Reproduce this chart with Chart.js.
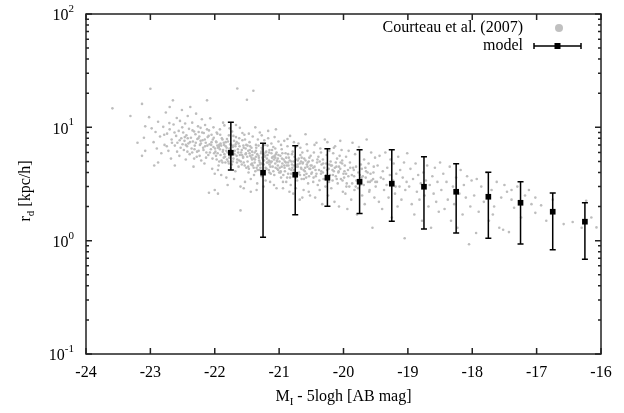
<!DOCTYPE html>
<html>
<head>
<meta charset="utf-8">
<script src="https://cdn.jsdelivr.net/npm/chart.js@4.4.1/dist/chart.umd.min.js"></script>
<style>
    html, body { margin: 0; padding: 0; background: #fff; }
    #wrap { width: 624px; height: 413px; }
</style>
</head>
<body>
<div id="wrap"><canvas id="rdChart" width="624" height="413"></canvas></div>
<script>
// Axis ticks
const xTicks = [-24, -23, -22, -21, -20, -19, -18, -17, -16];
const yDecades = [0.1, 1, 10, 100];
const yExponents = ['-1', '0', '1', '2'];

// Model: bin centres, median r_d and error bar ends (kpc/h)
const modelMag = [-21.75, -21.25, -20.75, -20.25, -19.75, -19.25, -18.75, -18.25, -17.75, -17.25, -16.75, -16.25];
const modelRd  = [5.97, 3.98, 3.82, 3.59, 3.31, 3.18, 2.99, 2.70, 2.44, 2.16, 1.80, 1.47];
const modelHi  = [11.1, 7.22, 6.89, 6.47, 6.34, 6.34, 5.51, 4.78, 4.01, 3.31, 2.63, 2.16];
const modelLo  = [4.2, 1.07, 1.69, 2.01, 1.74, 1.48, 1.27, 1.17, 1.05, 0.933, 0.832, 0.684];

// Courteau et al. (2007) galaxies, [M_I - 5logh, r_d]
const courteauPoints = [
    [-23.59,14.7],[-23.31,12.6],[-23.0,21.9],[-23.13,16.1],[-23.13,5.6],[-23.08,10.2],[-22.94,4.6],[-23.08,6.2],[-22.98,9.8],[-23.2,7.3],[-23.1,8.1],[-23.02,12.3],
    [-22.95,7.4],[-22.92,9.1],[-22.9,6.5],[-22.88,11.2],[-22.85,8.3],[-22.83,5.9],[-22.8,10.1],[-22.78,7.0],[-22.76,13.5],[-22.74,8.8],[-22.72,6.2],[-22.7,9.6],
    [-22.68,5.3],[-22.67,7.8],[-22.65,17.3],[-22.64,10.6],[-22.62,6.9],[-22.6,8.4],[-22.59,12.1],[-22.58,7.3],[-22.56,9.3],[-22.55,5.6],[-22.54,11.4],[-22.53,6.6],
    [-22.52,8.0],[-22.51,14.2],[-22.5,7.1],[-22.88,4.9],[-22.7,15.1],[-22.62,4.6],
    [-22.785,8.6],[-22.745,6.8],[-22.705,10.9],[-22.665,7.3],[-22.625,9.0],[-22.585,6.1],[-22.545,7.7],[-22.505,10.0],[-22.465,8.2],[-22.425,6.1],[-22.385,7.4],
    [-22.345,9.4],[-22.315,6.4],
    [-22.49,9.0],[-22.48,6.3],[-22.47,7.6],[-22.46,10.8],[-22.45,5.2],[-22.44,8.5],[-22.43,6.8],[-22.42,12.6],[-22.41,7.2],[-22.4,9.7],[-22.39,5.8],[-22.38,15.1],
    [-22.37,8.1],[-22.36,6.5],[-22.35,11.0],[-22.34,7.5],[-22.33,4.5],[-22.32,9.2],[-22.31,6.9],[-22.3,8.7],[-22.29,13.2],[-22.28,5.5],[-22.27,7.9],[-22.26,10.2],
    [-22.25,6.2],[-22.24,8.3],[-22.23,7.0],[-22.22,9.9],[-22.21,5.1],[-22.2,11.8],[-22.19,7.7],[-22.18,6.6],[-22.17,8.9],[-22.16,4.8],[-22.15,10.5],[-22.14,7.3],
    [-22.13,6.0],[-22.12,17.3],[-22.11,8.2],[-22.1,5.7],[-22.09,9.4],[-22.08,7.1],[-22.07,12.0],[-22.06,6.4],[-22.05,8.6],[-22.04,4.3],[-22.03,7.8],[-22.02,10.0],
    [-22.01,5.9],[-22.0,3.9],[-22.45,7.0],[-22.35,6.0],[-22.25,9.1],[-22.15,6.8],[-22.05,7.4],[-22.42,8.0],[-22.32,5.3],[-22.22,7.6],[-22.12,9.6],[-22.02,6.7],
    [-22.09,2.65],[-22.0,2.8],[-21.95,2.6],
    [-22.295,7.3],[-22.275,6.1],[-22.255,8.0],[-22.235,5.6],[-22.215,7.2],[-22.195,9.0],[-22.175,6.3],[-22.155,7.8],[-22.135,5.4],[-22.115,6.9],[-22.095,8.4],
    [-22.075,6.0],[-22.055,7.0],[-22.035,5.3],[-22.015,8.1],
    [-21.99,6.1],[-21.98,7.5],[-21.97,5.2],[-21.96,8.8],[-21.95,6.6],[-21.94,4.6],[-21.93,7.0],[-21.92,9.6],[-21.91,5.7],[-21.9,6.9],[-21.89,8.0],[-21.88,4.9],
    [-21.87,6.3],[-21.86,7.3],[-21.85,10.4],[-21.84,5.5],[-21.83,6.8],[-21.82,3.6],[-21.81,7.9],[-21.8,6.0],[-21.79,5.0],[-21.78,8.5],[-21.77,6.5],[-21.76,7.1],
    [-21.75,4.4],[-21.74,5.9],[-21.73,9.2],[-21.72,6.7],[-21.71,5.3],[-21.7,7.6],[-21.69,6.2],[-21.68,4.1],[-21.67,8.2],[-21.66,5.6],[-21.65,22.0],[-21.64,6.4],
    [-21.63,7.2],[-21.62,5.1],[-21.61,9.9],[-21.6,1.85],[-21.59,6.0],[-21.58,4.7],[-21.57,7.7],[-21.56,5.4],[-21.55,6.6],[-21.54,8.6],[-21.53,3.3],[-21.52,5.8],
    [-21.51,7.0],[-21.5,17.5],[-21.98,5.6],[-21.95,4.2],[-21.92,6.4],[-21.88,7.8],[-21.85,5.8],[-21.82,6.2],[-21.78,4.8],[-21.75,7.0],[-21.72,5.0],[-21.68,6.8],
    [-21.65,5.2],[-21.62,8.0],[-21.58,6.3],[-21.55,4.9],[-21.52,6.5],[-21.9,3.8],[-21.8,3.1],[-21.7,3.5],[-21.6,3.0],[-21.55,2.9],[-21.97,9.0],[-21.87,11.0],
    [-21.77,9.8],[-21.67,10.5],[-21.57,8.9],[-21.96,6.9],[-21.86,5.4],[-21.76,5.6],[-21.66,7.4],[-21.56,5.5],[-21.93,5.0],[-21.83,7.4],[-21.73,6.1],[-21.63,4.5],
    [-21.53,7.8],[-21.71,8.4],[-21.61,5.7],[-21.81,5.2],[-21.91,7.2],[-21.51,4.4],
    [-21.995,6.5],[-21.975,7.4],[-21.955,5.9],[-21.935,6.7],[-21.915,8.6],[-21.895,5.1],[-21.875,6.1],[-21.855,7.0],[-21.835,4.9],[-21.815,6.6],[-21.795,7.5],
    [-21.775,5.4],[-21.755,6.3],[-21.735,4.7],[-21.715,6.9],[-21.695,5.8],[-21.675,7.1],[-21.655,4.9],[-21.635,6.0],[-21.615,6.8],[-21.595,5.0],[-21.575,5.7],
    [-21.555,6.9],[-21.535,4.6],[-21.515,5.9],
    [-21.49,5.0],[-21.48,6.2],[-21.47,4.3],[-21.46,7.4],[-21.45,5.6],[-21.44,2.7],[-21.43,6.6],[-21.42,4.8],[-21.41,8.3],[-21.4,21.0],[-21.39,5.3],[-21.38,6.0],
    [-21.37,4.1],[-21.36,7.0],[-21.35,2.8],[-21.34,5.8],[-21.33,4.6],[-21.32,6.9],[-21.31,5.1],[-21.3,9.0],[-21.29,4.4],[-21.28,5.9],[-21.27,3.7],[-21.26,6.4],
    [-21.25,5.2],[-21.24,4.7],[-21.23,7.7],[-21.22,5.5],[-21.21,3.4],[-21.2,6.1],[-21.19,4.9],[-21.18,5.7],[-21.17,8.0],[-21.16,4.2],[-21.15,6.3],[-21.14,5.0],
    [-21.13,3.9],[-21.12,7.2],[-21.11,5.4],[-21.1,4.5],[-21.09,6.7],[-21.08,3.1],[-21.07,5.6],[-21.06,4.8],[-21.05,9.6],[-21.04,6.0],[-21.03,4.3],[-21.02,5.3],
    [-21.01,7.5],[-21.0,4.0],[-21.48,4.5],[-21.45,6.8],[-21.42,5.2],[-21.39,3.8],[-21.36,5.5],[-21.33,7.8],[-21.3,4.9],[-21.27,6.6],[-21.24,5.8],[-21.21,4.4],
    [-21.18,6.9],[-21.15,4.7],[-21.12,5.9],[-21.09,4.1],[-21.06,6.5],[-21.03,5.0],[-21.47,8.8],[-21.37,10.0],[-21.27,8.5],[-21.17,9.3],[-21.07,8.2],[-21.44,3.5],
    [-21.34,3.2],[-21.24,3.0],[-21.14,3.3],[-21.04,2.9],[-21.46,5.9],[-21.41,4.6],[-21.36,6.2],[-21.31,4.2],[-21.26,5.4],[-21.21,6.0],[-21.16,5.1],[-21.11,6.3],
    [-21.06,5.4],[-21.01,5.7],[-21.49,6.9],[-21.43,5.4],[-21.38,4.9],[-21.28,4.8],[-21.19,5.3],[-21.13,4.9],[-21.08,5.2],[-21.02,4.6],[-21.32,5.6],[-21.22,7.0],
    [-21.42,6.1],[-21.35,4.4],[-21.25,6.9],[-21.15,4.0],[-21.05,5.8],
    [-21.495,5.5],[-21.475,4.0],[-21.455,6.3],[-21.435,4.7],[-21.415,5.7],[-21.395,4.4],[-21.375,5.2],[-21.355,6.6],[-21.335,4.2],[-21.315,5.4],[-21.295,4.7],
    [-21.275,6.1],[-21.255,3.9],[-21.235,5.1],[-21.215,5.6],[-21.195,4.3],[-21.175,4.9],[-21.155,6.0],[-21.135,4.5],[-21.115,5.0],[-21.095,5.5],[-21.075,3.8],
    [-21.055,4.4],[-21.035,5.1],[-21.015,4.2],
    [-20.99,4.4],[-20.98,5.6],[-20.97,3.6],[-20.96,6.4],[-20.95,4.8],[-20.94,2.9],[-20.93,5.2],[-20.92,7.6],[-20.91,4.1],[-20.9,5.9],[-20.89,3.3],[-20.88,4.6],
    [-20.87,6.8],[-20.86,3.9],[-20.85,5.4],[-20.84,4.3],[-20.83,8.4],[-20.82,3.1],[-20.81,5.0],[-20.8,4.7],[-20.79,6.1],[-20.78,2.6],[-20.77,4.2],[-20.76,5.5],
    [-20.75,3.7],[-20.74,6.7],[-20.73,4.5],[-20.72,3.4],[-20.71,5.1],[-20.7,7.2],[-20.69,4.0],[-20.68,2.3],[-20.67,5.7],[-20.66,4.4],[-20.65,3.5],[-20.64,6.0],
    [-20.63,4.9],[-20.62,2.8],[-20.61,5.3],[-20.6,4.1],[-20.59,8.7],[-20.58,3.6],[-20.57,4.7],[-20.56,6.2],[-20.55,3.2],[-20.54,5.0],[-20.53,4.3],[-20.52,2.5],
    [-20.51,5.6],[-20.5,3.9],[-20.98,4.0],[-20.95,5.9],[-20.92,4.6],[-20.89,5.4],[-20.86,4.9],[-20.83,3.6],[-20.8,5.8],[-20.77,4.6],[-20.74,5.2],[-20.71,3.9],
    [-20.68,4.8],[-20.65,5.4],[-20.62,4.2],[-20.59,5.1],[-20.56,4.5],[-20.53,5.4],[-20.97,7.0],[-20.87,7.9],[-20.77,7.4],[-20.67,6.6],[-20.57,7.1],[-20.94,3.3],
    [-20.84,2.7],[-20.74,2.9],[-20.64,2.4],[-20.54,2.7],[-20.91,5.0],[-20.81,4.2],[-20.71,4.5],[-20.61,3.8],[-20.51,4.6],[-20.96,4.5],[-20.86,5.8],[-20.76,4.0],
    [-20.66,5.0],
    [-20.995,5.0],[-20.975,4.1],[-20.955,5.3],[-20.935,3.8],[-20.915,4.4],[-20.895,4.9],[-20.875,3.6],[-20.855,4.6],[-20.835,5.1],[-20.815,3.9],[-20.795,4.4],
    [-20.775,5.0],[-20.755,4.2],[-20.735,3.6],[-20.715,4.7],[-20.695,5.3],[-20.675,3.8],[-20.655,4.3],[-20.635,4.8],[-20.615,3.5],[-20.595,4.4],[-20.575,3.9],
    [-20.555,4.9],[-20.535,3.7],[-20.515,4.3],
    [-20.49,4.0],[-20.48,5.1],[-20.47,3.3],[-20.46,6.0],[-20.45,4.5],[-20.44,2.4],[-20.43,3.7],[-20.42,7.3],[-20.41,4.9],[-20.4,3.1],[-20.39,5.5],[-20.38,4.2],
    [-20.37,2.8],[-20.36,6.5],[-20.35,3.9],[-20.34,4.7],[-20.33,2.1],[-20.32,5.2],[-20.31,3.5],[-20.3,4.4],[-20.29,7.8],[-20.28,3.0],[-20.27,4.8],[-20.26,5.7],
    [-20.25,3.6],[-20.24,2.5],[-20.23,4.3],[-20.22,6.2],[-20.21,3.8],[-20.2,5.0],[-20.19,2.9],[-20.18,4.6],[-20.17,3.4],[-20.16,5.9],[-20.15,4.1],[-20.14,2.2],
    [-20.13,6.8],[-20.12,3.7],[-20.11,4.5],[-20.1,5.3],[-20.09,3.2],[-20.08,4.0],[-20.07,2.0],[-20.06,5.6],[-20.05,4.3],[-20.04,3.5],[-20.03,6.3],[-20.02,4.8],
    [-20.01,2.7],[-20.0,3.9],[-20.47,4.4],[-20.42,3.9],[-20.37,5.0],[-20.32,4.0],[-20.27,3.8],[-20.22,4.7],[-20.17,4.2],[-20.12,4.9],[-20.07,4.5],[-20.02,5.1],
    [-20.45,7.0],[-20.35,6.0],[-20.25,7.4],[-20.15,6.6],[-20.05,7.6],
    [-20.495,4.6],[-20.465,3.6],[-20.435,4.2],[-20.405,5.2],[-20.375,3.4],[-20.345,4.1],[-20.315,4.8],[-20.285,3.5],[-20.255,4.2],[-20.225,3.3],[-20.195,4.6],
    [-20.165,3.8],[-20.135,4.4],[-20.105,3.5],[-20.075,4.1],[-20.045,4.9],[-20.015,3.4],
    [-19.99,3.6],[-19.98,4.6],[-19.97,2.6],[-19.96,5.5],[-19.95,3.2],[-19.94,1.9],[-19.93,4.2],[-19.92,6.2],[-19.91,3.0],[-19.9,4.9],[-19.88,2.3],[-19.87,3.8],
    [-19.86,7.3],[-19.85,4.4],[-19.83,2.8],[-19.82,5.8],[-19.8,3.4],[-19.79,1.7],[-19.77,4.0],[-19.76,6.7],[-19.74,3.1],[-19.73,4.7],[-19.71,2.5],[-19.7,3.7],
    [-19.68,5.2],[-19.67,2.1],[-19.65,4.1],[-19.64,7.8],[-19.62,3.3],[-19.61,4.8],[-19.6,2.7],[-19.58,3.9],[-19.57,6.0],[-19.55,1.3],[-19.54,3.5],[-19.53,4.5],
    [-19.52,2.4],[-19.51,5.4],[-19.5,3.0],[-19.96,3.9],[-19.84,4.2],[-19.72,3.6],[-19.66,4.4],[-19.59,3.3],[-19.81,3.0],
    [-19.985,4.1],[-19.955,3.0],[-19.925,3.7],[-19.895,4.4],[-19.865,3.2],[-19.835,3.7],[-19.805,4.5],[-19.775,2.9],[-19.745,3.8],[-19.715,4.3],[-19.685,3.1],
    [-19.655,3.6],[-19.625,4.0],[-19.595,2.8],[-19.565,3.4],[-19.535,4.0],[-19.505,3.3],
    [-19.48,3.3],[-19.47,4.6],[-19.45,2.2],[-19.44,5.6],[-19.42,3.6],[-19.4,1.9],[-19.39,4.1],[-19.37,2.8],[-19.35,6.0],[-19.33,3.1],[-19.32,4.4],[-19.3,2.4],
    [-19.28,3.8],[-19.27,5.2],[-19.25,1.6],[-19.23,3.4],[-19.22,4.8],[-19.2,2.6],[-19.18,3.9],[-19.16,2.0],[-19.15,5.5],[-19.13,3.0],[-19.12,4.2],[-19.1,2.3],
    [-19.08,3.6],[-19.06,4.9],[-19.05,1.05],[-19.04,2.8],[-19.02,3.3],[-19.01,5.9],[-19.38,3.5],[-19.19,3.0],
    [-18.98,3.0],[-18.96,4.3],[-18.94,2.1],[-18.92,3.5],[-18.9,1.7],[-18.88,4.8],[-18.86,2.7],[-18.84,3.8],[-18.82,2.3],[-18.8,3.2],[-18.78,1.5],[-18.76,4.0],
    [-18.74,2.5],[-18.72,3.4],[-18.7,4.6],[-18.68,2.0],[-18.66,3.1],[-18.64,1.3],[-18.62,3.7],[-18.6,2.6],[-18.58,4.4],[-18.56,2.2],[-18.54,3.3],[-18.52,1.8],
    [-18.5,4.9],
    [-18.48,2.8],[-18.45,3.9],[-18.43,1.9],[-18.4,3.3],[-18.38,2.3],[-18.35,4.5],[-18.33,1.5],[-18.3,3.0],[-18.28,2.1],[-18.25,3.6],[-18.23,1.3],[-18.2,2.6],
    [-18.18,4.2],[-18.15,1.7],[-18.13,3.1],[-18.1,2.4],[-18.08,3.7],[-18.05,0.93],[-18.03,2.0],[-18.01,3.4],
    [-17.97,2.5],[-17.93,3.5],[-17.9,1.8],[-17.86,3.0],[-17.82,2.2],[-17.78,4.0],[-17.74,1.5],[-17.7,2.8],[-17.66,2.0],[-17.62,3.3],[-17.58,1.3],[-17.55,2.4],
    [-17.52,1.25],[-17.5,3.1],[-17.68,1.7],[-17.94,1.17],
    [-17.46,2.7],[-17.43,1.19],[-17.39,2.8],[-17.39,2.3],[-17.35,1.95],[-17.3,3.0],[-17.24,1.6],[-17.18,2.5],[-17.12,2.8],[-17.08,2.1],[-17.02,1.76],[-17.02,2.4],
    [-16.93,2.05],[-16.85,1.5],[-16.75,2.3],[-16.58,1.40],[-16.44,1.46],[-16.3,1.3],[-16.23,2.25],[-16.07,1.31],[-16.15,1.6]
];

const SERIF = '"Liberation Serif", "DejaVu Serif", serif';
const AXIS_COLOR = '#222';

// draw a run of [text, size, dy] pieces starting at x (left aligned)
function drawPieces(ctx, pieces, x, y) {
    pieces.forEach(p => {
        ctx.font = p[1] + 'px ' + SERIF;
        ctx.fillText(p[0], x, y + p[2]);
        x += ctx.measureText(p[0]).width;
    });
}

function piecesWidth(ctx, pieces) {
    let w = 0;
    pieces.forEach(p => {
        ctx.font = p[1] + 'px ' + SERIF;
        w += ctx.measureText(p[0]).width;
    });
    return w;
}

const errorBarPlugin = {
    id: 'errorBars',
    beforeDatasetDraw(chart, args) {
        if (args.index !== 0) return;
        const { ctx, scales: { x, y } } = chart;
        ctx.save();
        ctx.strokeStyle = '#000';
        ctx.lineWidth = 1.5;
        modelMag.forEach((m, i) => {
            const px = x.getPixelForValue(m);
            const top = y.getPixelForValue(modelHi[i]);
            const bot = y.getPixelForValue(modelLo[i]);
            ctx.beginPath();
            ctx.moveTo(px, top); ctx.lineTo(px, bot);
            ctx.moveTo(px - 3, top); ctx.lineTo(px + 3, top);
            ctx.moveTo(px - 3, bot); ctx.lineTo(px + 3, bot);
            ctx.stroke();
        });
        ctx.restore();
    }
};

const framePlugin = {
    id: 'gnuFrame',
    afterDraw(chart) {
        const { ctx, chartArea: a, scales: { x, y } } = chart;
        ctx.save();
        ctx.strokeStyle = AXIS_COLOR;
        ctx.lineWidth = 1.5;
        ctx.strokeRect(a.left, a.top, a.right - a.left, a.bottom - a.top);

        // x ticks (bottom and top, pointing inwards)
        ctx.beginPath();
        xTicks.forEach(v => {
            const px = x.getPixelForValue(v);
            ctx.moveTo(px, a.bottom); ctx.lineTo(px, a.bottom - 6);
            ctx.moveTo(px, a.top); ctx.lineTo(px, a.top + 6);
        });
        // y ticks: decades long, 2..9 short, both sides
        yDecades.forEach((d, i) => {
            const py = y.getPixelForValue(d);
            ctx.moveTo(a.left, py); ctx.lineTo(a.left + 6, py);
            ctx.moveTo(a.right, py); ctx.lineTo(a.right - 6, py);
            if (i < yDecades.length - 1) {
                for (let k = 2; k <= 9; k++) {
                    const pm = y.getPixelForValue(d * k);
                    ctx.moveTo(a.left, pm); ctx.lineTo(a.left + 3, pm);
                    ctx.moveTo(a.right, pm); ctx.lineTo(a.right - 3, pm);
                }
            }
        });
        ctx.stroke();

        ctx.fillStyle = '#000';
        ctx.textBaseline = 'middle';

        // x tick labels
        ctx.font = '16px ' + SERIF;
        ctx.textAlign = 'center';
        xTicks.forEach(v => {
            ctx.fillText(String(v), x.getPixelForValue(v), a.bottom + 19);
        });

        // y tick labels 10^n
        ctx.textAlign = 'left';
        yDecades.forEach((d, i) => {
            const py = y.getPixelForValue(d);
            const pieces = [['10', 16, 2], [yExponents[i], 11, -5]];
            const w = piecesWidth(ctx, pieces);
            drawPieces(ctx, pieces, a.left - 12 - w, py);
        });

        // x title
        const xt = [['M', 16, 0], ['I', 11, 5], [' - 5logh [AB mag]', 16, 0]];
        const xw = piecesWidth(ctx, xt);
        drawPieces(ctx, xt, (a.left + a.right) / 2 - xw / 2, a.bottom + 43);

        // y title (rotated)
        const yt = [['r', 16, 0], ['d', 11, 5], [' [kpc/h]', 16, 0]];
        const yw = piecesWidth(ctx, yt);
        ctx.save();
        ctx.translate(26, 191);
        ctx.rotate(-Math.PI / 2);
        drawPieces(ctx, yt, -yw / 2, 0);
        ctx.restore();

        // legend
        ctx.font = '16px ' + SERIF;
        ctx.textAlign = 'right';
        ctx.fillText('Courteau et al. (2007)', 523, 28);
        ctx.fillText('model', 523, 46);
        ctx.fillStyle = '#c0c0c0';
        ctx.beginPath();
        ctx.arc(559, 28, 4, 0, Math.PI * 2);
        ctx.fill();
        ctx.strokeStyle = '#000';
        ctx.lineWidth = 1.5;
        ctx.beginPath();
        ctx.moveTo(534, 46); ctx.lineTo(581, 46);
        ctx.moveTo(534, 43); ctx.lineTo(534, 49);
        ctx.moveTo(581, 43); ctx.lineTo(581, 49);
        ctx.stroke();
        ctx.fillStyle = '#000';
        ctx.fillRect(554.5, 43, 6, 6);
        ctx.restore();
    }
};

const ctx = document.getElementById('rdChart').getContext('2d');
const rdChart = new Chart(ctx, {
    type: 'scatter',
    data: {
        datasets: [
            {
                label: 'model',
                data: modelMag.map((m, i) => ({ x: m, y: modelRd[i] })),
                pointStyle: 'rect',
                pointRadius: 4,
                backgroundColor: '#000',
                borderColor: '#000',
                borderWidth: 0,
                order: 0
            },
            {
                label: 'Courteau et al. (2007)',
                data: courteauPoints.map(p => ({ x: p[0], y: p[1] })),
                pointRadius: 1.3,
                backgroundColor: '#bdbdbd',
                borderWidth: 0,
                order: 1
            }
        ]
    },
    options: {
        responsive: false,
        animation: false,
        events: [],
        layout: { padding: { left: 86, right: 23, top: 14, bottom: 59 } },
        scales: {
            x: { type: 'linear', min: -24, max: -16, display: false },
            y: { type: 'logarithmic', min: 0.1, max: 100, display: false }
        },
        plugins: {
            legend: { display: false },
            tooltip: { enabled: false }
        }
    },
    plugins: [errorBarPlugin, framePlugin]
});
</script>
</body>
</html>
